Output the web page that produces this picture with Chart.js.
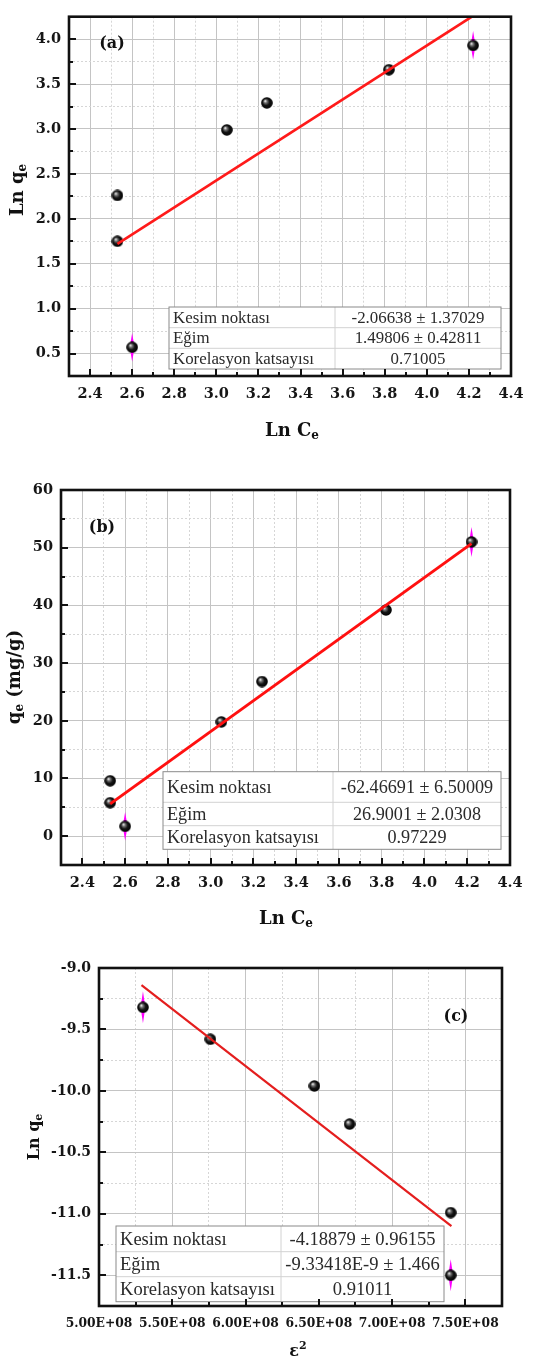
<!DOCTYPE html>
<html>
<head>
<meta charset="utf-8">
<script src="https://cdn.jsdelivr.net/npm/chart.js@4.4.1/dist/chart.umd.min.js"></script>
<style>
  html, body { margin: 0; padding: 0; background: #fff; }
  body { width: 544px; height: 1367px; position: relative; overflow: hidden; }
  .panel { position: absolute; left: 0; width: 544px; }
  canvas { display: block; }
</style>
</head>
<body>
<div class="panel" style="top:0"><canvas id="chartA" width="544" height="460"></canvas></div>
<div class="panel" style="top:460px"><canvas id="chartB" width="544" height="470"></canvas></div>
<div class="panel" style="top:930px"><canvas id="chartC" width="544" height="437"></canvas></div>
<script>
// ── Data ──────────────────────────────────────────
// (a) Ln qe vs Ln Ce
const lnCe = [2.53, 2.53, 2.60, 3.05, 3.24, 3.82, 4.22];
const lnQeA = [2.26, 1.75, 0.57, 2.99, 3.29, 3.66, 3.93];
const errA = [0, 0, 0.16, 0, 0, 0, 0.16];
const fitXA = [2.53, 4.22];
const fitYA = [1.72, 4.26];
const tableA = [
  ['Kesim noktası', '-2.06638 ± 1.37029'],
  ['Eğim', '1.49806 ± 0.42811'],
  ['Korelasyon katsayısı', '0.71005'],
];

// (b) qe vs Ln Ce
const qeB = [9.6, 5.8, 1.7, 19.8, 26.8, 39.2, 51.0];
const errB = [0, 0, 2.5, 0, 0, 0, 2.6];
const fitXB = [2.53, 4.22];
const fitYB = [5.6, 50.7];
const tableB = [
  ['Kesim noktası', '-62.46691 ± 6.50009'],
  ['Eğim', '26.9001 ± 2.0308'],
  ['Korelasyon katsayısı', '0.97229'],
];

// (c) Ln qe vs eps^2
const eps2 = [5.30e8, 5.76e8, 6.47e8, 6.71e8, 7.40e8, 7.40e8];
const lnQeC = [-9.32, -9.58, -9.96, -10.27, -10.99, -11.50];
const errC = [0.13, 0, 0, 0, 0, 0.13];
const fitXC = [5.29e8, 7.405e8];
const fitYC = [-9.14, -11.10];
const tableC = [
  ['Kesim noktası', '-4.18879 ± 0.96155'],
  ['Eğim', '-9.33418E-9 ± 1.466'],
  ['Korelasyon katsayısı', '0.91011'],
];

const SERIF = "'DejaVu Serif', serif";
const TSERIF = "'Liberation Serif', serif";

// ── Sphere marker ─────────────────────────────────
const sphere = (() => {
  const c = document.createElement('canvas');
  c.width = 12; c.height = 12;
  const g = c.getContext('2d');
  const grad = g.createRadialGradient(4.2, 4.0, 0.3, 6, 6, 6);
  grad.addColorStop(0, '#f0f0f0');
  grad.addColorStop(0.22, '#777');
  grad.addColorStop(0.55, '#151515');
  grad.addColorStop(1, '#000');
  g.fillStyle = grad;
  g.beginPath(); g.arc(6, 6, 5.8, 0, Math.PI * 2); g.fill();
  return c;
})();

// ── Helpers ───────────────────────────────────────
function richText(ctx, parts, cx, cy, angle) {
  ctx.save();
  ctx.translate(cx, cy);
  ctx.rotate(angle || 0);
  ctx.textBaseline = 'middle';
  ctx.textAlign = 'left';
  ctx.fillStyle = '#111';
  let w = 0;
  parts.forEach((p) => { ctx.font = p.font; w += ctx.measureText(p.t).width; });
  let x = -w / 2;
  parts.forEach((p) => {
    ctx.font = p.font;
    ctx.fillText(p.t, x, p.dy || 0);
    x += ctx.measureText(p.t).width;
  });
  ctx.restore();
}

function drawTable(ctx, tb) {
  const { x0, x1, xm, rows, data, target } = tb;
  // fit font so the longest left label matches the picture
  ctx.font = `12px ${TSERIF}`;
  const size = 12 * target / ctx.measureText(data[2][0]).width;
  ctx.fillStyle = '#fff';
  ctx.fillRect(x0, rows[0], x1 - x0, rows[3] - rows[0]);
  ctx.lineWidth = 1;
  ctx.strokeStyle = '#d2d2d2';
  ctx.beginPath();
  [rows[1], rows[2]].forEach((y) => { ctx.moveTo(x0, y); ctx.lineTo(x1, y); });
  ctx.moveTo(xm, rows[0]); ctx.lineTo(xm, rows[3]);
  ctx.stroke();
  ctx.strokeStyle = '#8a8a8a';
  ctx.strokeRect(x0, rows[0], x1 - x0, rows[3] - rows[0]);
  ctx.font = `${size}px ${TSERIF}`;
  ctx.fillStyle = '#2a2a2a';
  ctx.textBaseline = 'middle';
  data.forEach((r, i) => {
    const cy = (rows[i] + rows[i + 1]) / 2 + 1;
    ctx.textAlign = 'left';
    ctx.fillText(r[0], x0 + 4, cy);
    ctx.textAlign = 'center';
    ctx.fillText(r[1], (xm + x1) / 2, cy);
  });
}

const decorPlugin = {
  id: 'decor',
  beforeDatasetsDraw(chart, args, opts) {
    // magenta error whiskers under the markers
    const { ctx, scales: { x, y } } = chart;
    const ds = chart.data.datasets[0];
    ctx.save();
    ctx.fillStyle = '#ff00ff';
    ds.data.forEach((p, i) => {
      const e = opts.err[i];
      if (!e) return;
      const px = x.getPixelForValue(p.x);
      const py = y.getPixelForValue(p.y);
      const top = y.getPixelForValue(p.y + e);
      const bot = y.getPixelForValue(p.y - e);
      ctx.beginPath();
      ctx.moveTo(px - 2.4, py); ctx.lineTo(px, top); ctx.lineTo(px + 2.4, py);
      ctx.moveTo(px - 2.4, py); ctx.lineTo(px, bot); ctx.lineTo(px + 2.4, py);
      ctx.fill();
    });
    ctx.restore();
  },
  afterDraw(chart, args, opts) {
    const { ctx, chartArea: a, scales } = chart;
    ctx.save();
    drawTable(ctx, opts.table);
    // inward ticks
    ctx.strokeStyle = '#111';
    ctx.lineWidth = 2;
    ctx.beginPath();
    scales.x.ticks.forEach((t) => {
      const px = Math.round(scales.x.getPixelForValue(t.value));
      const len = t.label ? 7 : 4;
      ctx.moveTo(px, a.bottom); ctx.lineTo(px, a.bottom - len);
    });
    scales.y.ticks.forEach((t) => {
      const py = Math.round(scales.y.getPixelForValue(t.value));
      const len = t.label ? 7 : 4;
      ctx.moveTo(a.left, py); ctx.lineTo(a.left + len, py);
    });
    ctx.stroke();
    // frame
    ctx.lineWidth = 2.6;
    ctx.strokeStyle = '#111';
    ctx.strokeRect(a.left, a.top, a.right - a.left, a.bottom - a.top);
    // panel label and axis titles
    ctx.fillStyle = '#111';
    ctx.font = `bold 16px ${SERIF}`;
    ctx.textAlign = 'center';
    ctx.textBaseline = 'middle';
    ctx.fillText(opts.label.t, opts.label.x, opts.label.y);
    richText(ctx, opts.xTitle.parts, opts.xTitle.x, opts.xTitle.y, 0);
    richText(ctx, opts.yTitle.parts, opts.yTitle.x, opts.yTitle.y, -Math.PI / 2);
    ctx.restore();
  },
};

function makeChart(id, p) {
  const pts = p.xs.map((v, i) => ({ x: v, y: p.ys[i] }));
  const fit = p.fx.map((v, i) => ({ x: v, y: p.fy[i] }));
  const tickFont = (s) => ({ family: SERIF, size: s, weight: 'bold' });
  return new Chart(document.getElementById(id).getContext('2d'), {
    type: 'scatter',
    data: {
      datasets: [
        { data: pts, pointStyle: sphere, pointRadius: 5.5, order: 1 },
        { data: fit, showLine: true, borderColor: p.lineColor, borderWidth: p.lineWidth,
          pointRadius: 0, order: 0 },
      ],
    },
    options: {
      responsive: false,
      animation: false,
      layout: { padding: p.pad },
      plugins: {
        legend: { display: false },
        tooltip: { enabled: false },
        decor: p.decor,
      },
      scales: {
        x: {
          type: 'linear',
          min: p.x.min, max: p.x.max,
          afterFit: (s) => { s.height = p.xH; },
          grid: {
            drawTicks: false,
            color: (c) => (p.x.major(c.tick.value) ? '#c4c4c4' : '#d6d6d6'),
          },
          border: { display: false, dash: (c) => (p.x.major(c.tick.value) ? [] : [2, 2]) },
          ticks: {
            stepSize: p.x.step, autoSkip: false, maxRotation: 0, minRotation: 0,
            padding: 10, color: '#161616', font: tickFont(p.x.font),
            callback: (v) => (p.x.major(v) ? p.x.fmt(v) : ''),
          },
        },
        y: {
          type: 'linear',
          min: p.y.min, max: p.y.max,
          afterFit: (s) => { s.width = p.yW; },
          grid: {
            drawTicks: false,
            color: (c) => (p.y.major(c.tick.value) ? '#c4c4c4' : '#d6d6d6'),
          },
          border: { display: false, dash: (c) => (p.y.major(c.tick.value) ? [] : [2, 2]) },
          ticks: {
            stepSize: p.y.step, autoSkip: false,
            padding: 8, color: '#161616', font: tickFont(p.y.font),
            callback: (v) => (p.y.major(v) ? p.y.fmt(v) : ''),
          },
        },
      },
    },
    plugins: [decorPlugin],
  });
}

const even = (v, unit) => Math.abs(Math.round(v / unit)) % 2 === 0;
const big = (s) => `bold ${s}px ${SERIF}`;

// ── Panel (a) ─────────────────────────────────────
makeChart('chartA', {
  xs: lnCe, ys: lnQeA, fx: fitXA, fy: fitYA,
  lineColor: '#ff1a1a', lineWidth: 2.6,
  pad: { top: 5, right: 33, left: 0, bottom: 0 }, yW: 69, xH: 84,
  x: { min: 2.3, max: 4.4, step: 0.1, font: 14.5, major: (v) => even(v, 0.1), fmt: (v) => v.toFixed(1) },
  y: { min: 0.25, max: 4.25, step: 0.25, font: 14.5, major: (v) => even(v, 0.25), fmt: (v) => v.toFixed(1) },
  decor: {
    err: errA,
    table: { x0: 169, x1: 501, xm: 335, rows: [307, 327.7, 348.3, 369], data: tableA, target: 141 },
    label: { t: '(a)', x: 112, y: 44 },
    xTitle: { x: 292, y: 431, parts: [{ t: 'Ln C', font: big(18) }, { t: 'e', font: big(12), dy: 5 }] },
    yTitle: { x: 18, y: 190, parts: [{ t: 'Ln q', font: big(18) }, { t: 'e', font: big(12), dy: 5 }] },
  },
});

// ── Panel (b) ─────────────────────────────────────
makeChart('chartB', {
  xs: lnCe, ys: qeB, fx: fitXB, fy: fitYB,
  lineColor: '#ff1010', lineWidth: 3,
  pad: { top: 30, right: 34, left: 0, bottom: 0 }, yW: 61, xH: 65,
  x: { min: 2.3, max: 4.4, step: 0.1, font: 14.5, major: (v) => even(v, 0.1), fmt: (v) => v.toFixed(1) },
  y: { min: -5, max: 60, step: 5, font: 14.5, major: (v) => even(v, 5), fmt: (v) => String(v) },
  decor: {
    err: errB,
    table: { x0: 163, x1: 501, xm: 333, rows: [311.7, 342.3, 365.7, 389.3], data: tableB, target: 152 },
    label: { t: '(b)', x: 102, y: 68 },
    xTitle: { x: 286, y: 459, parts: [{ t: 'Ln C', font: big(18) }, { t: 'e', font: big(12), dy: 5 }] },
    yTitle: { x: 15, y: 217, parts: [{ t: 'q', font: big(18) }, { t: 'e', font: big(12), dy: 5 }, { t: ' (mg/g)', font: big(18) }] },
  },
});

// ── Panel (c) ─────────────────────────────────────
makeChart('chartC', {
  xs: eps2, ys: lnQeC, fx: fitXC, fy: fitYC,
  lineColor: '#e41e1e', lineWidth: 2.2,
  pad: { top: 38, right: 42, left: 0, bottom: 0 }, yW: 99, xH: 61,
  x: { min: 5.0e8, max: 7.75e8, step: 0.25e8, font: 12.3, major: (v) => even(v, 0.25e8),
       fmt: (v) => (v / 1e8).toFixed(2) + 'E+08' },
  y: { min: -11.75, max: -9.0, step: 0.25, font: 14, major: (v) => even(v, 0.25), fmt: (v) => v.toFixed(1) },
  decor: {
    err: errC,
    table: { x0: 116, x1: 444, xm: 281, rows: [296, 321.7, 346.7, 371.7], data: tableC, target: 155 },
    label: { t: '(c)', x: 456, y: 87 },
    xTitle: { x: 298, y: 422, parts: [{ t: 'ε', font: big(16) }, { t: '2', font: big(11), dy: -6 }] },
    yTitle: { x: 35, y: 207, parts: [{ t: 'Ln q', font: big(16) }, { t: 'e', font: big(11), dy: 4 }] },
  },
});
</script>
</body>
</html>
